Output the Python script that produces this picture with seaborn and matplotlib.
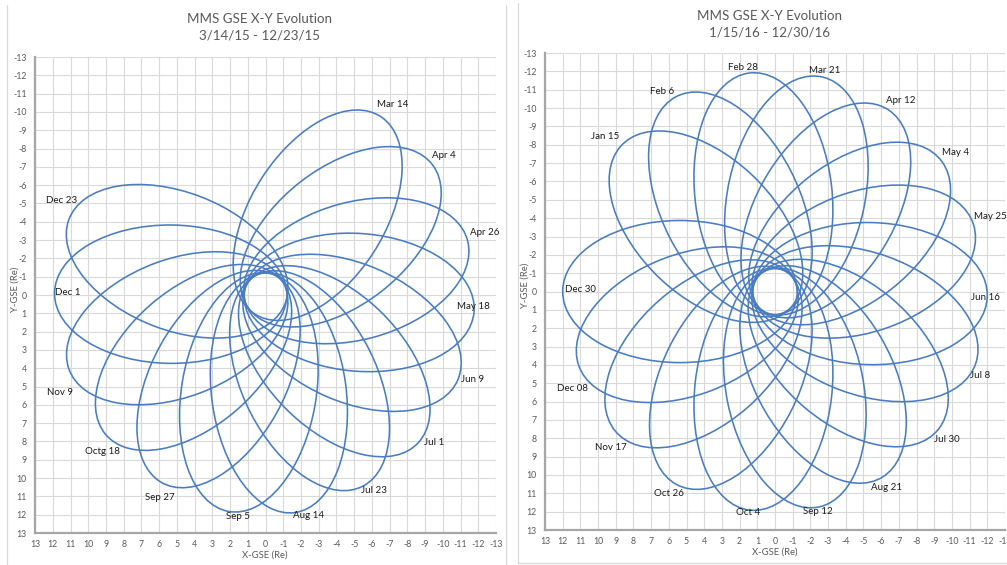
import numpy as np
import matplotlib
matplotlib.use("Agg")
import matplotlib.pyplot as plt
from matplotlib.patches import Ellipse
from matplotlib.lines import Line2D
import seaborn as sns

sns.set_theme(style="whitegrid")
plt.rcParams['font.family'] = ['Lato', 'DejaVu Sans']

# 2015 orbits: apogee point (X, Y GSE, Re) and label position
left_dates = ["Mar 14", "Apr 4", "Apr 26", "May 18", "Jun 9", "Jul 1", "Jul 23",
              "Aug 14", "Sep 5", "Sep 27", "Octg 18", "Nov 9", "Dec 1", "Dec 23"]
left_apo_x = [-6.55, -9.44, -11.4, -11.76, -10.86, -8.63, -5.53,
              -1.67, 2.09, 5.9, 9.04, 11.09, 11.9, 11.1]
left_apo_y = [-9.71, -7.08, -2.95, 0.9, 4.6, 8.05, 10.42,
              11.88, 11.82, 10.22, 7.59, 4.04, -0.1, -4.1]
left_lab_x = [-7.15, -10.06, -12.38, -11.72, -11.66, -9.52, -6.14,
              -2.45, 1.53, 5.95, 9.2, 11.6, 11.18, 11.53]
left_lab_y = [-10.43, -7.6, -3.4, 0.62, 4.6, 8.08, 10.66,
              12.03, 12.08, 11.04, 8.55, 5.31, -0.12, -5.15]
left_perigee = 1.2

# 2016 orbits
right_dates = ["Jan 15", "Feb 6", "Feb 28", "Mar 21", "Apr 12", "May 4", "May 25",
               "Jun 16", "Jul 8", "Jul 30", "Aug 21", "Sep 12", "Oct 4", "Oct 26",
               "Nov 17", "Dec 08", "Dec 30"]
right_apo_x = [8.73, 5.63, 1.46, -2.7, -6.43, -9.44, -11.22,
               -12.0, -11.35, -9.25, -6.08, -2.5, 1.46, 5.58,
               9.04, 11.09, 12.0]
right_apo_y = [-7.91, -10.6, -11.91, -11.69, -9.89, -7.08, -3.65,
               0.25, 3.91, 7.49, 10.11, 11.74, 11.91, 10.51,
               7.59, 4.04, 0.0]
right_lab_x = [9.6, 6.4, 1.79, -2.79, -7.12, -10.21, -12.2,
               -11.87, -11.57, -9.7, -6.31, -2.45, 1.51, 5.97,
               9.27, 11.46, 11.02]
right_lab_y = [-8.44, -10.88, -12.22, -12.07, -10.4, -7.57, -4.09,
               0.33, 4.59, 8.06, 10.66, 12.0, 12.05, 11.02,
               8.51, 5.28, -0.13]
right_perigee = 1.25

ticks = list(range(-13, 14))
line_color = "#4A7CC2"
gray = "#595959"


def draw_panel(ax, apo_x, apo_y, lab_x, lab_y, dates, rp):
  # each orbit: focus at Earth, perigee rp, apogee at the given point
  for x, y in zip(apo_x, apo_y):
    ra = np.hypot(x, y)
    ux, uy = x / ra, y / ra
    a = (ra + rp) / 2
    c = (ra - rp) / 2
    b = np.sqrt(ra * rp)
    ell = Ellipse((c * ux, c * uy), 2 * a, 2 * b, angle=np.degrees(np.arctan2(uy, ux)),
                  fill=False, edgecolor=line_color, linewidth=1.15, zorder=3)
    ax.add_patch(ell)
  for x, y, t in zip(lab_x, lab_y, dates):
    ax.text(x, y, t, fontsize=7.0, color="#1a1a1a", ha="center", va="center", zorder=4)

  ax.set_xlim(13, -13)
  ax.set_ylim(13, -13)
  ax.set_xticks(ticks)
  ax.set_xticklabels([str(v) for v in ticks])
  ax.set_yticks(ticks)
  ax.set_yticklabels([str(v) for v in ticks])
  ax.tick_params(axis='both', length=0, labelsize=6.3, labelcolor=gray)
  ax.tick_params(axis='x', pad=5)
  ax.tick_params(axis='y', pad=6)
  ax.set_facecolor("white")
  ax.grid(True, color="#D9D9D9", linewidth=0.8)
  for s in ["top", "right"]:
    ax.spines[s].set_visible(False)
  for s in ["left", "bottom"]:
    ax.spines[s].set_color("#A6A6A6")
    ax.spines[s].set_linewidth(1.6)
  ax.set_xlabel("")
  ax.set_ylabel("")


fig = plt.figure(figsize=(10.07, 5.65), dpi=100)
fig.patch.set_facecolor("white")

ax1 = fig.add_axes([0.0348, 0.0566, 0.4578, 0.8425])
ax2 = fig.add_axes([0.5412, 0.0619, 0.4568, 0.8442])

draw_panel(ax1, left_apo_x, left_apo_y, left_lab_x, left_lab_y, left_dates, left_perigee)
draw_panel(ax2, right_apo_x, right_apo_y, right_lab_x, right_lab_y, right_dates, right_perigee)

# titles
fig.text(0.2572, 0.9664, "MMS GSE X-Y Evolution", ha="center", va="center", fontsize=9.6, color=gray)
fig.text(0.2572, 0.9363, "3/14/15 - 12/23/15", ha="center", va="center", fontsize=9.6, color=gray)
fig.text(0.7637, 0.9717, "MMS GSE X-Y Evolution", ha="center", va="center", fontsize=9.6, color=gray)
fig.text(0.7637, 0.9416, "1/15/16 - 12/30/16", ha="center", va="center", fontsize=9.6, color=gray)

# axis titles
fig.text(0.0149, 0.487, "Y-GSE (Re)", rotation=90, ha="center", va="center", fontsize=6.8, color=gray)
fig.text(0.2632, 0.0177, "X-GSE (Re)", ha="center", va="center", fontsize=6.8, color=gray)
fig.text(0.5213, 0.495, "Y-GSE (Re)", rotation=90, ha="center", va="center", fontsize=6.8, color=gray)
fig.text(0.7696, 0.023, "X-GSE (Re)", ha="center", va="center", fontsize=6.8, color=gray)

# chart frames
frame = "#D9D9D9"
fig.add_artist(Line2D([7 / 1007, 7 / 1007], [0, 1 - 5 / 565], transform=fig.transFigure, color=frame, lw=0.9))
fig.add_artist(Line2D([506 / 1007, 506 / 1007], [0, 1 - 5 / 565], transform=fig.transFigure, color=frame, lw=0.9))
fig.add_artist(Line2D([518 / 1007, 518 / 1007], [2 / 565, 1 - 3 / 565], transform=fig.transFigure, color=frame, lw=0.9))
fig.add_artist(Line2D([518 / 1007, 1], [2 / 565, 2 / 565], transform=fig.transFigure, color=frame, lw=0.9))

fig.savefig("out.png", dpi=100, facecolor="white")
